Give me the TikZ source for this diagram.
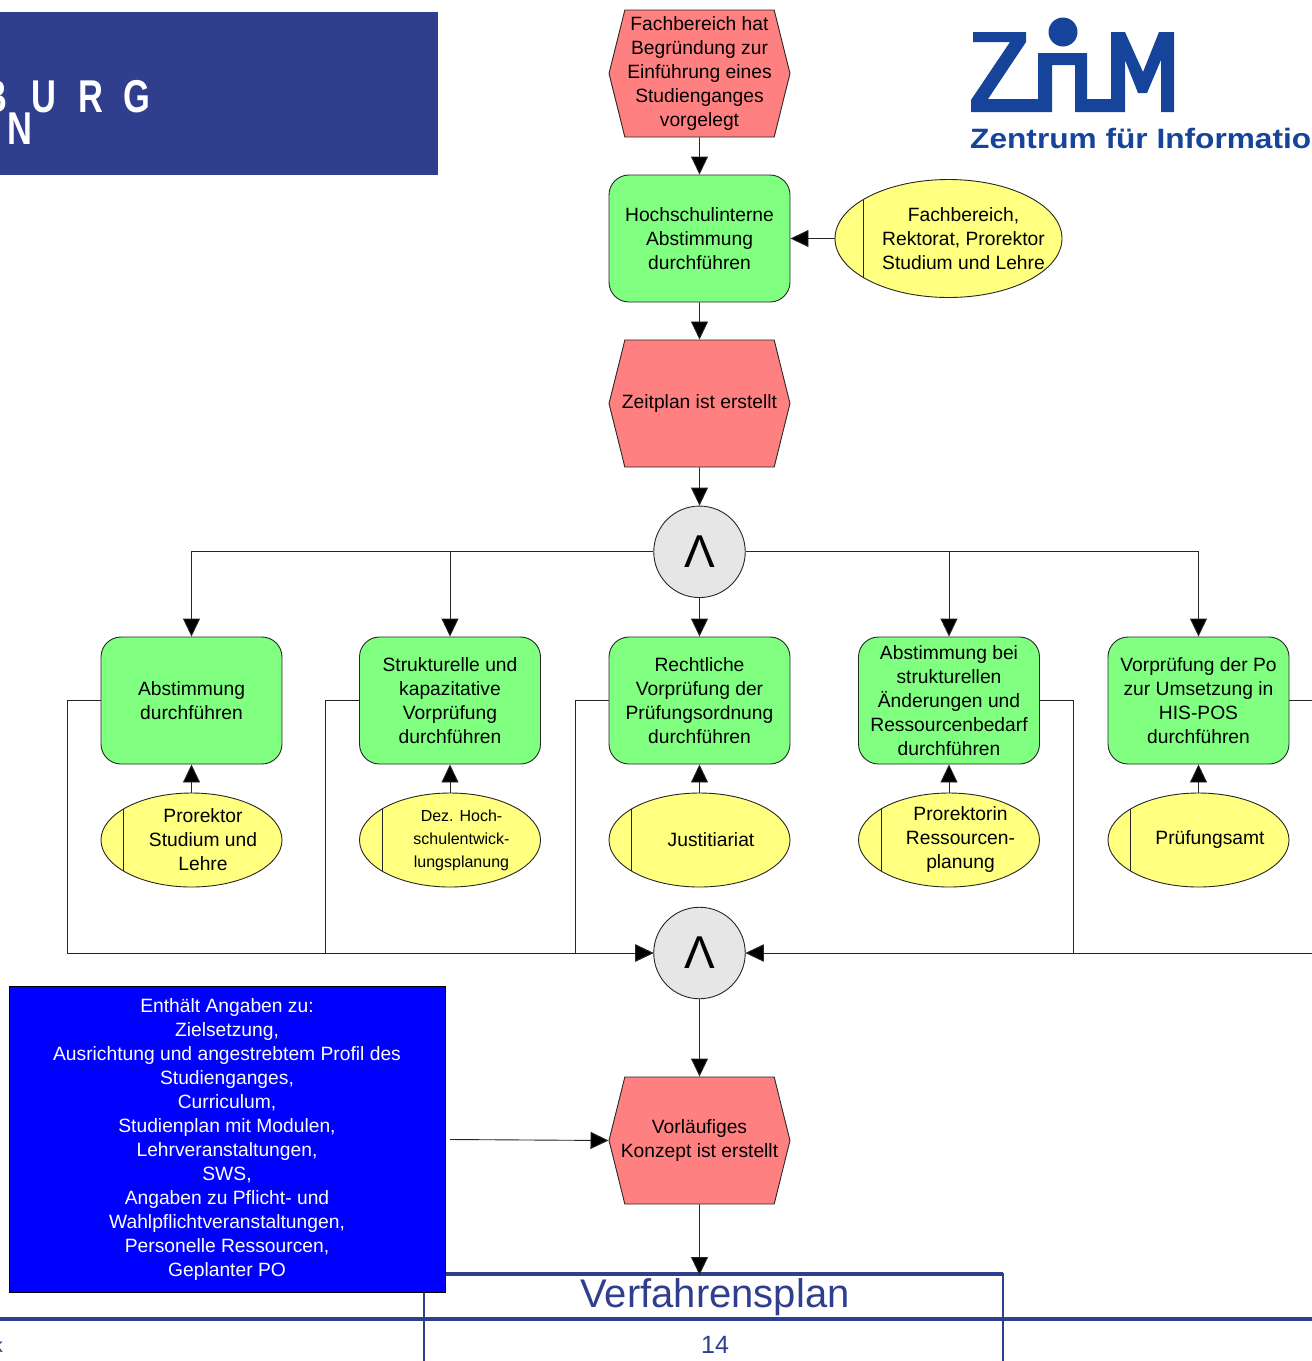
\documentclass[tikz,border=0pt]{standalone}
\usepackage{fontspec}
\setmainfont{Liberation Sans}
\newfontfamily\logofont[FakeStretch=0.75]{Liberation Sans Bold}
\newfontfamily\zimfont[FakeStretch=1.13]{Liberation Sans Bold}
\usetikzlibrary{shapes.geometric,shapes.symbols,arrows.meta,calc}
\definecolor{uniblue}{HTML}{2F3F8E}
\definecolor{zimblue}{HTML}{17449B}
\definecolor{eventred}{HTML}{FF8080}
\definecolor{funcgreen}{HTML}{80FF80}
\definecolor{roleyellow}{HTML}{FFFF80}
\definecolor{gategray}{HTML}{E6E6E6}
\newcommand{\rolefont}{\fontsize{19.25}{24}\selectfont}
\newcommand{\dezfont}{\fontsize{16}{23}\selectfont}
\tikzset{
  every node/.style={font=\fontsize{19.25}{24}\selectfont,align=center,inner sep=0},
  epcline/.style={line width=0.9pt,draw=black!85},
  epcarrow/.style={epcline,-{Triangle[length=18pt,width=17pt,fill=black]}},
  eventbox/.style={signal,signal to=west and east,signal pointer angle=152,
    draw=black!85,line width=0.9pt,fill=eventred,minimum width=181,minimum height=127},
  funcbox/.style={draw=black!85,line width=0.9pt,fill=funcgreen,rounded corners=20pt,
    minimum width=181,minimum height=127},
  rolebox/.style={ellipse,draw=black!85,line width=0.9pt,fill=roleyellow,minimum width=181,minimum height=94},
  gatebox/.style={circle,draw=black!85,line width=0.9pt,fill=gategray,minimum size=91.5,
    font=\fontsize{46}{46}\selectfont},
  logoletter/.style={text=white,font=\logofont\fontsize{46}{46}\selectfont}
}
\begin{document}
\begin{tikzpicture}[x=1pt,y=-1pt]
\clip (0,0) rectangle (1312,1361);
% uni logo
\fill[uniblue] (0,12) rectangle (438,175);
\foreach \c/\x/\y in {B/-5/97, U/44/97, R/91/97, G/137/97, N/20/129}
    \node[logoletter] (logo\c) at (\x,\y) {\c};
% zim logo
\fill[zimblue] (973,32) -- (1026,32) -- (1026,42) -- (988,99) -- (1038,99) -- (1038,53)
    -- (1087,53) -- (1087,99) -- (1111,99) -- (1111,32) -- (1125,32) -- (1143,72)
    -- (1159,32) -- (1174,32) -- (1174,112) -- (1161,112) -- (1161,60) -- (1147,93)
    -- (1138,93) -- (1125,60) -- (1125,112) -- (1075,112) -- (1075,65) -- (1052,65)
    -- (1052,112) -- (971,112) -- (971,100) -- (1010,42) -- (973,42) -- cycle;
\fill[zimblue] (1063,32) circle (14.5);
\node[anchor=west,text=zimblue,font=\zimfont\fontsize{28}{28}\selectfont] (zimtext) at (970,138) {Zentrum für Information};
% footer
\draw[uniblue,line width=3.5pt] (424,1274) -- (1003,1274);
\draw[uniblue,line width=2.5pt] (424,1370) -- (424,1272.5);
\draw[uniblue,line width=2.5pt] (1003,1370) -- (1003,1272.5);
\draw[uniblue,line width=3.5pt] (0,1319) -- (1312,1319);
\node[text=uniblue,font=\fontsize{40}{40}\selectfont] (title) at (715,1297) {Verfahrensplan};
\node[text=uniblue,font=\fontsize{25}{25}\selectfont] (page) at (715,1345) {14};
\node[text=uniblue,anchor=east,font=\fontsize{20}{20}\selectfont] (foot) at (3,1345) {k};
% events
\node[eventbox] (e1) at (699.5,73.5) {Fachbereich hat\\Begründung zur\\Einführung eines\\Studienganges\\vorgelegt};
\node[funcbox] (f0) at (699.5,238.5) {Hochschulinterne\\Abstimmung\\durchführen};
\node[rolebox,minimum width=227,minimum height=118,
    label={[xshift=15pt]center:Fachbereich,\\Rektorat, Prorektor\\Studium und Lehre}] (r0) at (948.5,238.5) {};
\draw[epcline] ($(r0.center)+(-85.5,-38.8)$) -- ($(r0.center)+(-85.5,38.8)$);
\node[eventbox] (e2) at (699.5,403.5) {\hspace*{-4pt}Zeitplan ist erstellt\hspace*{-4pt}};
\node[gatebox] (g1) at (699.5,551.8) {\raisebox{-3pt}{Λ}};
\node[gatebox] (g2) at (699.5,953) {\raisebox{-3pt}{Λ}};
\node[eventbox] (e3) at (699.5,1140.5) {Vorläufiges\\\hspace*{-6pt}Konzept ist erstellt\hspace*{-6pt}};
\coordinate (frametop) at (699.5,1275);
% columns
\foreach \n/\x/\t/\r/\rf in {
    1/191.5/{Abstimmung\\durchführen}/{Prorektor\\Studium und\\Lehre}/\rolefont,
    2/450/{Strukturelle und\\kapazitative\\Vorprüfung\\durchführen}/{Dez. Hoch-\\schulentwick-\\lungsplanung}/\dezfont,
    3/699.5/{Rechtliche\\Vorprüfung der\\Prüfungsordnung\\durchführen}/{Justitiariat}/\rolefont,
    4/949/{Abstimmung bei\\strukturellen\\Änderungen und\\Ressourcenbedarf\\durchführen}/{Prorektorin\\Ressourcen-\\planung}/\rolefont,
    5/1198.5/{Vorprüfung der Po\\zur Umsetzung in\\HIS-POS\\durchführen}/{Prüfungsamt}/\rolefont}
{
    \node[funcbox] (f\n) at (\x,700.5) {\t};
    \node[rolebox,label={[xshift=11.5pt,font=\rf]center:\r}] (r\n) at (\x,840) {};
    \draw[epcline] ($(r\n.center)+(-68,-30.7)$) -- ($(r\n.center)+(-68,30.7)$);
    \draw[epcarrow] (r\n) -- (f\n);
}
% text box
\node[draw=black,line width=0.9pt,fill=blue,text=white,minimum width=436,minimum height=306] (info) at (227,1139.5)
    {Enthält Angaben zu:\\Zielsetzung,\\Ausrichtung und angestrebtem Profil des\\Studienganges,\\Curriculum,\\Studienplan mit Modulen,\\Lehrveranstaltungen,\\SWS,\\Angaben zu Pflicht- und\\Wahlpflichtveranstaltungen,\\Personelle Ressourcen,\\Geplanter PO};
\coordinate (infoend) at (450,1139.5);
% connectors
\draw[epcarrow] (e1) -- (f0);
\draw[epcarrow] (r0) -- (f0);
\draw[epcarrow] (f0) -- (e2);
\draw[epcarrow] (e2) -- (g1);
\draw[epcarrow] (g1) -- (f3);
\draw[epcarrow] (g1.west) -| (f1.north);
\draw[epcarrow] (g1.west) -| (f2.north);
\draw[epcarrow] (g1.east) -| (f4.north);
\draw[epcarrow] (g1.east) -| (f5.north);
\draw[epcarrow] (f1.west) -- (67,700.5) |- (g2.west);
\draw[epcarrow] (f2.west) -- (325.5,700.5) |- (g2.west);
\draw[epcarrow] (f3.west) -- (575,700.5) |- (g2.west);
\draw[epcarrow] (f4.east) -- (1073.5,700.5) |- (g2.east);
\draw[epcarrow] (f5.east) -- (1330,700.5) |- (g2.east);
\draw[epcarrow] (g2) -- (e3);
\draw[epcarrow] (infoend) -- (e3.west);
\draw[epcarrow] (e3) -- (frametop);
\end{tikzpicture}
\end{document}
